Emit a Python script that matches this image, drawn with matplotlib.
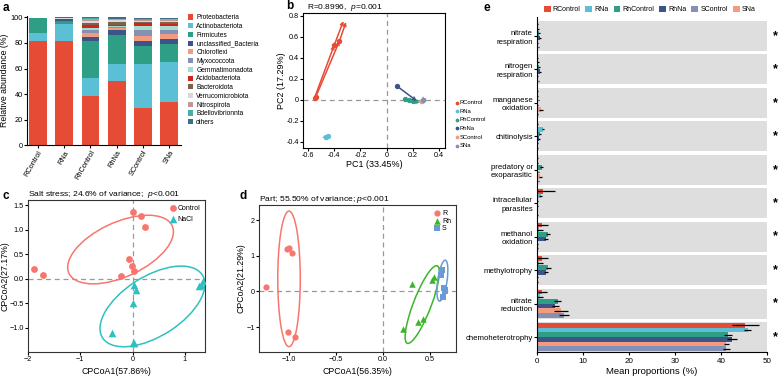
import matplotlib
matplotlib.use('Agg')
import matplotlib.pyplot as plt
from matplotlib.patches import Ellipse
from matplotlib.ticker import FuncFormatter
import numpy as np

plt.rcParams['font.family'] = ['Liberation Sans', 'DejaVu Sans']
plt.rcParams['mathtext.fontset'] = 'custom'
plt.rcParams['mathtext.rm'] = 'Liberation Sans'
plt.rcParams['mathtext.it'] = 'Liberation Sans:italic'
plt.rcParams['font.size'] = 6

# ---- panel a: stacked phylum composition ----
samples = ['RControl', 'RNa', 'RhControl', 'RhNa', 'SControl', 'SNa']
phyla = ['Proteobacteria', 'Actinobacteriota', 'Firmicutes', 'unclassified_Bacteria',
         'Chloroflexi', 'Myxococcota', 'Gemmatimonadota', 'Acidobacteriota',
         'Bacteroidota', 'Verrucomicrobiota', 'Nitrospirota', 'Bdellovibrionnta', 'others']
phylum_colors = ['#E64B35', '#5BBFD6', '#2E9E85', '#3C5488', '#F39B7F', '#8491B4',
                 '#A6DCCB', '#D0231B', '#7E6148', '#D8D8D8', '#C49595', '#47ADA8', '#3B6E87']
abundance = [
    [81.5, 81.5, 38.5, 50.5, 29.3, 34.0],
    [6.0, 13.5, 14.3, 13.3, 34.0, 31.0],
    [11.8, 2.3, 28.5, 22.8, 14.2, 14.0],
    [0.2, 0.4, 3.2, 3.3, 4.0, 4.2],
    [0.1, 0.3, 3.0, 1.5, 4.3, 3.8],
    [0.05, 0.2, 2.6, 1.3, 4.2, 3.2],
    [0.05, 0.1, 1.5, 0.6, 3.5, 2.7],
    [0.05, 0.2, 2.8, 1.0, 2.0, 2.2],
    [0.05, 0.6, 1.0, 2.2, 0.8, 1.0],
    [0.05, 0.4, 2.0, 1.2, 1.2, 1.3],
    [0.02, 0.2, 1.0, 0.8, 0.8, 1.0],
    [0.03, 0.1, 0.8, 0.5, 0.5, 0.5],
    [0.0, 0.3, 1.0, 1.0, 0.8, 1.0],
]

# ---- panel b: procrustes-like PCA ----
b_groups = ['RControl', 'RNa', 'RhControl', 'RhNa', 'SControl', 'SNa']
b_colors = ['#E64B35', '#5BBFD6', '#2E9E85', '#3C5488', '#F39B7F', '#8491B4']
b_start_x = [[-0.55, -0.54, -0.40, -0.36], [-0.46, -0.45], [0.14, 0.17, 0.20], [0.08], [0.27], [0.28]]
b_start_y = [[0.02, 0.03, 0.52, 0.56], [-0.35, -0.34], [0.01, 0.00, -0.01], [0.13], [-0.01], [0.00]]
b_end_x = [[-0.40, -0.36, -0.33, -0.31], [-0.45, -0.44], [0.24, 0.25, 0.26], [0.23], [0.28], [0.27]]
b_end_y = [[0.52, 0.56, 0.75, 0.74], [-0.34, -0.33], [-0.02, -0.03, -0.02], [-0.01], [0.00], [-0.02]]

# ---- panel c: salt stress CPCoA ----
c_ctrl_x = [-1.88, -1.72, 0.0, 0.17, 0.24, -0.07, -0.02, 0.02, -0.22]
c_ctrl_y = [0.20, 0.08, 1.37, 1.28, 1.05, 0.40, 0.26, 0.16, 0.06]
c_nacl_x = [0.03, 0.06, 0.0, -0.40, 0.03, 0.0, 1.30, 1.35, 1.28]
c_nacl_y = [-0.12, -0.23, -0.50, -1.10, -1.30, -1.30, -0.12, -0.05, -0.15]
c_ell_center = [(-0.23, 0.60), (0.38, -0.56)]
c_ell_size = [(2.2, 1.1), (2.3, 1.2)]
c_ell_angle = [27, 35]

# ---- panel d: compartment CPCoA ----
d_r_x = [-1.25, -1.02, -1.00, -0.97, -1.01, -0.94]
d_r_y = [0.12, 1.20, 1.22, 1.07, -1.15, -1.28]
d_rh_x = [0.31, 0.52, 0.55, 0.21, 0.37, 0.43]
d_rh_y = [0.20, 0.33, 0.40, -1.05, -0.85, -0.78]
d_s_x = [0.63, 0.62, 0.65, 0.66, 0.64, 0.66]
d_s_y = [0.60, 0.45, 0.10, 0.00, -0.15, 0.05]
d_ell_center = [(-1.0, 0.35), (0.42, -0.37), (0.635, 0.30)]
d_ell_size = [(0.24, 3.8), (2.2, 0.2), (0.10, 1.15)]
d_ell_angle = [0, 82, -3]

# ---- panel e: FAPROTAX functions ----
functions = ['nitrate\nrespiration', 'nitrogen\nrespiration', 'manganese\noxidation',
             'chitinolysis', 'predatory or\nexoparasitic', 'intracellular\nparasites',
             'methanol\noxidation', 'methylotrophy', 'nitrate\nreduction', 'chemoheterotrophy']
e_groups = ['RControl', 'RNa', 'RhControl', 'RhNa', 'SNa', 'SControl']
e_colors = ['#E64B35', '#5BBFD6', '#2E9E85', '#3C5488', '#F39B7F', '#8491B4']
e_mean = [
    [0.1, 0.1, 0.1, 0.1, 0.1, 1.3, 1.2, 1.2, 1.2, 45.3],
    [0.3, 0.3, 0.2, 1.3, 0.2, 0.8, 0.5, 0.5, 0.6, 45.8],
    [0.4, 0.4, 0.3, 0.6, 1.0, 0.2, 2.4, 2.5, 4.5, 41.5],
    [0.6, 0.6, 0.2, 0.5, 0.3, 0.1, 2.0, 2.0, 4.0, 42.4],
    [0.1, 0.1, 0.9, 0.2, 0.7, 0.05, 0.1, 0.1, 5.2, 41.2],
    [0.3, 0.3, 0.2, 0.2, 0.3, 0.1, 0.1, 0.1, 5.8, 41.2],
]
e_err = [
    [0.1, 0.1, 0.1, 0.1, 0.1, 2.6, 1.1, 1.1, 1.0, 2.9],
    [0.2, 0.2, 0.1, 0.3, 0.1, 0.3, 0.9, 0.9, 0.8, 0.7],
    [0.2, 0.2, 0.1, 0.2, 0.3, 0.1, 0.5, 0.6, 0.8, 0.9],
    [0.2, 0.2, 0.1, 0.2, 0.1, 0.05, 0.4, 0.4, 0.7, 1.1],
    [0.1, 0.1, 0.4, 0.1, 0.3, 0.05, 0.05, 0.05, 1.5, 0.5],
    [0.1, 0.1, 0.1, 0.1, 0.1, 0.05, 0.05, 0.05, 1.1, 0.7],
]

fig = plt.figure(figsize=(7.78, 3.84), dpi=100)


def panel_label(x, y, s):
    fig.text(x, y, s, fontsize=8.5, fontweight='bold', ha='left', va='center')


def dashed_zero(ax):
    ax.axhline(0, color='#999999', ls=(0, (4, 3)), lw=0.9, zorder=0)
    ax.axvline(0, color='#999999', ls=(0, (4, 3)), lw=0.9, zorder=0)


# panel a
ax = fig.add_axes([0.035, 0.622, 0.1975, 0.336])
bottom = np.zeros(len(samples))
for name, col, vals in zip(phyla, phylum_colors, abundance):
    ax.bar(samples, vals, bottom=bottom, width=0.68, color=col, label=name)
    bottom += np.array(vals)
ax.set_ylim(0, 101)
ax.set_xlim(-0.41, 5.45)
ax.set_yticks([0, 20, 40, 60, 80, 100])
ax.set_ylabel('Relative abundance (%)', fontsize=6.3, labelpad=1.5)
ax.spines[['top', 'right']].set_visible(False)
ax.tick_params(labelsize=5.3, length=2, pad=1)
plt.setp(ax.get_xticklabels(), rotation=60, ha='right', rotation_mode='anchor')
ax.legend(loc='upper left', bbox_to_anchor=(1.03, 1.035), frameon=False, fontsize=4.8,
          handlelength=0.8, handleheight=0.8, labelspacing=0.26, handletextpad=0.4,
          borderaxespad=0)
panel_label(0.003, 0.978, 'a')

# panel b
ax = fig.add_axes([0.3895, 0.615, 0.1825, 0.352])
dashed_zero(ax)
for g, col, sx, sy, ex, ey in zip(b_groups, b_colors, b_start_x, b_start_y, b_end_x, b_end_y):
    for x0, y0, x1, y1 in zip(sx, sy, ex, ey):
        ax.annotate('', xy=(x1, y1), xytext=(x0, y0),
                    arrowprops=dict(arrowstyle='->', color=col, lw=1.1, shrinkA=0, shrinkB=0,
                                    mutation_scale=5))
    ax.scatter(sx, sy, s=8, color=col, zorder=3, label=g)
ax.set_xlim(-0.638, 0.446)
ax.set_ylim(-0.457, 0.83)
ax.set_xticks([-0.6, -0.4, -0.2, 0, 0.2, 0.4])
ax.set_yticks([-0.4, -0.2, 0, 0.2, 0.4, 0.6, 0.8])
fmt = FuncFormatter(lambda v, p: '0' if abs(v) < 1e-9 else f'{v:.1f}')
ax.xaxis.set_major_formatter(fmt)
ax.yaxis.set_major_formatter(fmt)
ax.tick_params(labelsize=5.2, length=2, pad=1)
ax.set_xlabel('PC1 (33.45%)', fontsize=6.5, labelpad=1)
ax.set_ylabel('PC2 (17.29%)', fontsize=6.5, labelpad=0)
ax.set_title('R=0.8996,  $\\it{p}$=0.001', fontsize=6, loc='left', pad=2, x=0.03)
ax.legend(loc='upper left', bbox_to_anchor=(1.05, 0.37), frameon=False, fontsize=4.2,
          markerscale=0.6, handletextpad=0.05, labelspacing=0.6, borderaxespad=0, handlelength=0.8)
panel_label(0.368, 0.985, 'b')

# panel c
ax = fig.add_axes([0.036, 0.0833, 0.2278, 0.3958])
dashed_zero(ax)
ax.scatter(c_ctrl_x, c_ctrl_y, s=24, color='#F8766D', marker='o', lw=0, label='Control', zorder=3)
ax.scatter(c_nacl_x, c_nacl_y, s=30, color='#2FC0C0', marker='^', lw=0, label='NaCl', zorder=3)
for (cx, cy), (w, h), a, col in zip(c_ell_center, c_ell_size, c_ell_angle, ['#F8766D', '#2FC0C0']):
    ax.add_patch(Ellipse((cx, cy), w, h, angle=a, fill=False, ec=col, lw=1.1))
ax.set_xlim(-2.0, 1.39)
ax.set_ylim(-1.49, 1.61)
ax.set_xticks([-2, -1, 0, 1])
ax.set_yticks([-1.0, -0.5, 0.0, 0.5, 1.0, 1.5])
ax.yaxis.set_major_formatter(FuncFormatter(lambda v, p: f'{v:.1f}'.replace('-', '\u2212')))
ax.tick_params(labelsize=5.2, length=2, pad=1)
for s in ax.spines.values():
    s.set_color('#333333')
ax.set_xlabel('CPCoA1(57.86%)', fontsize=6.3, labelpad=3)
ax.set_ylabel('CPCoA2(27.17%)', fontsize=6.3, labelpad=0)
ax.set_title('Salt stress; 24.6% of variance;  $\\it{p}$<0.001', fontsize=6.1, loc='left', pad=3, x=0.0)
ax.legend(loc='upper right', frameon=False, fontsize=5, handletextpad=0.2, borderaxespad=0.3,
          labelspacing=0.6, handlelength=1.0)
panel_label(0.003, 0.49, 'c')

# panel d
ax = fig.add_axes([0.3329, 0.0833, 0.2532, 0.3828])
dashed_zero(ax)
ax.scatter(d_r_x, d_r_y, s=20, color='#F8766D', marker='o', lw=0, label='R', zorder=3)
ax.scatter(d_rh_x, d_rh_y, s=22, color='#3BB52A', marker='^', lw=0, label='Rh', zorder=3)
ax.scatter(d_s_x, d_s_y, s=18, color='#6A9BD8', marker='s', lw=0, label='S', zorder=3)
for (cx, cy), (w, h), a, col in zip(d_ell_center, d_ell_size, d_ell_angle,
                                      ['#F8766D', '#3BB52A', '#6A9BD8']):
    ax.add_patch(Ellipse((cx, cy), w, h, angle=a, fill=False, ec=col, lw=1.1))
ax.set_xlim(-1.32, 0.78)
ax.set_ylim(-1.7, 2.42)
ax.set_xticks([-1.0, -0.5, 0.0, 0.5])
ax.set_yticks([-1, 0, 1, 2])
ax.tick_params(labelsize=5.2, length=2, pad=1)
for s in ax.spines.values():
    s.set_color('#333333')
ax.set_xlabel('CPCoA1(56.35%)', fontsize=6.3, labelpad=3)
ax.set_ylabel('CPCoA2(21.29%)', fontsize=6.3, labelpad=1)
ax.set_title('Part; 55.50% of variance; $\\it{p}$<0.001', fontsize=6.1, loc='left', pad=3, x=0.0)
ax.legend(loc='upper right', frameon=False, fontsize=5, handletextpad=0.2, borderaxespad=0.3,
          labelspacing=0.1, handlelength=1.0)
panel_label(0.308, 0.49, 'd')

# panel e
ax = fig.add_axes([0.6902, 0.0833, 0.2956, 0.8724])
ypos = np.arange(len(functions))
for y in ypos:
    ax.axhspan(y - 0.445, y + 0.445, xmin=0, xmax=1, color='#DEDEDE', lw=0, zorder=0)
    ax.text(51.8, y, '*', fontsize=9, fontweight='bold', ha='center', va='center', clip_on=False)
bh = 0.14
for i, (g, col, m, e) in enumerate(zip(e_groups, e_colors, e_mean, e_err)):
    off = (i - 2.5) * bh
    ax.barh(ypos + off, m, height=bh, color=col, label=g, zorder=2)
    ax.errorbar(m, ypos + off, xerr=e, fmt='none', ecolor='black', elinewidth=0.9, capsize=0, zorder=3)
ax.set_ylim(len(functions) - 0.555, -0.56)
ax.set_xlim(0, 50)
ax.set_yticks(ypos)
ax.set_yticklabels(functions, fontsize=5.6, linespacing=1.35)
ax.set_xticks([0, 10, 20, 30, 40, 50])
ax.tick_params(axis='x', labelsize=5.8, length=2, pad=2)
ax.tick_params(axis='y', length=2, pad=1)
ax.spines[['top', 'right']].set_visible(False)
ax.set_xlabel('Mean proportions (%)', fontsize=6.8, labelpad=2)
handles, labels = ax.get_legend_handles_labels()
order = [0, 1, 2, 3, 5, 4]
ax.legend([handles[k] for k in order], ['RControl', 'RNa', 'RhControl', 'RhNa', 'SControl', 'SNa'],
          loc='lower center', bbox_to_anchor=(0.49, 1.0), ncol=6, frameon=False, fontsize=5,
          handlelength=1.0, handleheight=0.9, columnspacing=0.7, handletextpad=0.3, borderaxespad=0.15)
panel_label(0.621, 0.978, 'e')

fig.savefig('out.png', dpi=100)
